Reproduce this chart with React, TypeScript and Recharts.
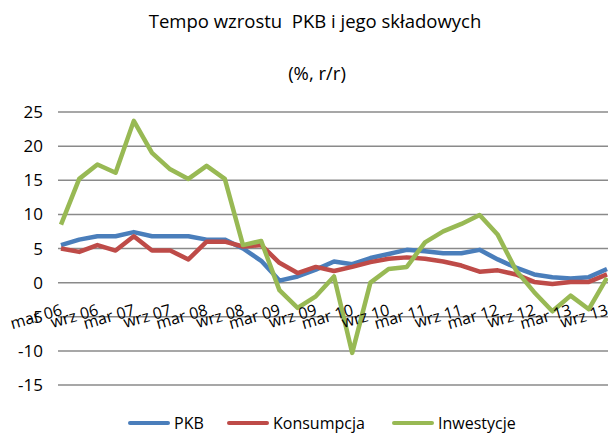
import { LineChart, Line, XAxis, YAxis, CartesianGrid } from "recharts"

// kwartały: mar / cze / wrz / gru
const quarters = [
    "mar 06", "cze 06", "wrz 06", "gru 06",
    "mar 07", "cze 07", "wrz 07", "gru 07",
    "mar 08", "cze 08", "wrz 08", "gru 08",
    "mar 09", "cze 09", "wrz 09", "gru 09",
    "mar 10", "cze 10", "wrz 10", "gru 10",
    "mar 11", "cze 11", "wrz 11", "gru 11",
    "mar 12", "cze 12", "wrz 12", "gru 12",
    "mar 13", "cze 13", "wrz 13",
]

const pkb = [
    5.5, 6.3, 6.8, 6.8, 7.4, 6.8, 6.8, 6.8, 6.3, 6.3, 5.0, 3.2,
    0.3, 0.9, 1.9, 3.1, 2.7, 3.6, 4.2, 4.8, 4.6, 4.3, 4.3, 4.8,
    3.4, 2.2, 1.2, 0.8, 0.6, 0.8, 2.0,
]

const konsumpcja = [
    5.0, 4.5, 5.5, 4.7, 6.8, 4.7, 4.7, 3.4, 6.0, 6.0, 5.3, 5.5,
    2.9, 1.4, 2.3, 1.7, 2.3, 3.0, 3.5, 3.7, 3.5, 3.1, 2.5, 1.6,
    1.8, 1.2, 0.1, -0.2, 0.1, 0.1, 1.2,
]

const inwestycje = [
    8.5, 15.2, 17.3, 16.1, 23.7, 19.0, 16.6, 15.2, 17.1, 15.2, 5.5, 6.1,
    -1.1, -3.7, -2.0, 0.9, -10.3, 0.0, 2.0, 2.3, 5.9, 7.5, 8.6, 9.9,
    7.0, 1.8, -1.4, -4.2, -1.9, -3.9, 0.7,
]

const yTicks = [-15, -10, -5, 0, 5, 10, 15, 20, 25]

const series = [
    { key: "pkb", name: "PKB", color: "#4A7EBB" },
    { key: "konsumpcja", name: "Konsumpcja", color: "#BE4B48" },
    { key: "inwestycje", name: "Inwestycje", color: "#98B954" },
]

const data = quarters.map((q, i) => ({
    kw: q,
    pkb: pkb[i],
    konsumpcja: konsumpcja[i],
    inwestycje: inwestycje[i],
}))

const FONT = "'Open Sans', 'Noto Sans', sans-serif"
const W = 612
const H = 434
const MARGIN = { top: 112, right: 2, bottom: 48, left: 0 }
const X_AXIS_H = 1
const yMin = yTicks[0]
const yMax = yTicks[yTicks.length - 1]
const plotH = H - MARGIN.top - MARGIN.bottom - X_AXIS_H
// odległość od dołu wykresu do linii zera (etykiety osi X leżą przy zerze)
const zeroOffset = (plotH * (0 - yMin)) / (yMax - yMin)

function XTick(props: any) {
    const { x, y, payload } = props
    const ty = y - zeroOffset + 24
    return (
        <text
            x={x + 2}
            y={ty}
            textAnchor="end"
            fontSize={16}
            fill="#000"
            fontFamily={FONT}
            transform={`rotate(-16, ${x + 2}, ${ty})`}
        >
            {payload.value}
        </text>
    )
}

export default function App() {
    return (
        <div style={{ position: "fixed", left: 0, top: 0, width: 608, height: 434, overflow: "hidden", background: "#fff", fontFamily: FONT }}>
            <div style={{ position: "absolute", top: 8, left: 0, width: 630, textAlign: "center", fontSize: 18.5, whiteSpace: "pre" }}>
                Tempo wzrostu  PKB i jego składowych
            </div>
            <div style={{ position: "absolute", top: 60, left: 0, width: 634, textAlign: "center", fontSize: 18.5 }}>
                (%, r/r)
            </div>
            <LineChart width={W} height={H} data={data} margin={MARGIN}>
                <CartesianGrid vertical={false} stroke="#8a8a8a" strokeWidth={1.5} />
                <XAxis
                    dataKey="kw"
                    height={X_AXIS_H}
                    interval={1}
                    axisLine={false}
                    tickLine={false}
                    padding={{ left: 3, right: 3 }}
                    tick={XTick}
                />
                <YAxis
                    width={58}
                    domain={[yMin, yMax]}
                    ticks={yTicks}
                    axisLine={false}
                    tickLine={false}
                    tickMargin={9}
                    tick={{ fontSize: 17, fill: "#000", fontFamily: FONT }}
                />
                {series.map((s) => (
                    <Line
                        key={s.key}
                        type="linear"
                        dataKey={s.key}
                        name={s.name}
                        stroke={s.color}
                        strokeWidth={4.5}
                        strokeLinejoin="round"
                        dot={false}
                        isAnimationActive={false}
                    />
                ))}
            </LineChart>
            <div style={{ position: "absolute", top: 412, left: 128, display: "flex", alignItems: "center", fontSize: 16 }}>
                {series.map((s, i) => (
                    <div key={s.key} style={{ display: "flex", alignItems: "center", width: i === 0 ? 99 : i === 1 ? 165 : "auto" }}>
                        <span style={{ display: "inline-block", width: 42, height: 4, borderRadius: 2, background: s.color, marginRight: 4 }} />
                        <span>{s.name}</span>
                    </div>
                ))}
            </div>
        </div>
    )
}
